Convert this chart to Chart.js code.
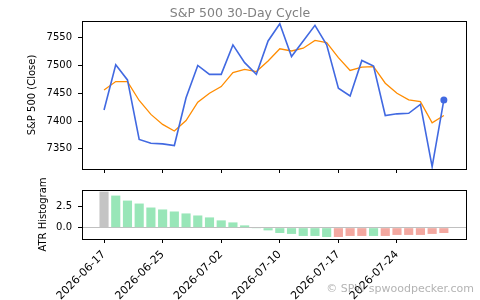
<!DOCTYPE html>
<html><head><meta charset="utf-8">
<script src="https://cdn.jsdelivr.net/npm/chart.js@4"></script>
<style>html,body{margin:0;padding:0;background:#fff;} #wrap{position:relative;width:480px;height:300px;} canvas{position:absolute;left:0;top:0;}</style>
</head><body><div id="wrap"><canvas id="top" width="480" height="300"></canvas><canvas id="bot" width="480" height="300"></canvas></div>
<script>
const dates = ['2026-06-17','2026-06-18','2026-06-22','2026-06-23','2026-06-24','2026-06-25','2026-06-26','2026-06-29','2026-06-30','2026-07-01','2026-07-02','2026-07-06','2026-07-07','2026-07-08','2026-07-09','2026-07-10','2026-07-13','2026-07-14','2026-07-15','2026-07-16','2026-07-17','2026-07-20','2026-07-21','2026-07-22','2026-07-23','2026-07-24','2026-07-27','2026-07-28','2026-07-29','2026-07-30'];
const closeVals = [7420, 7501, 7474, 7367, 7360, 7359, 7356, 7442, 7500, 7484, 7484, 7537, 7505, 7484, 7544, 7575, 7516, 7544, 7572, 7537, 7459, 7445, 7509, 7499, 7410, 7413, 7414, 7430, 7318, 7438];
const maVals = [7456, 7471, 7471, 7437, 7412, 7394, 7382, 7401, 7434, 7450, 7462, 7487, 7493, 7489, 7508, 7530, 7526, 7531, 7545, 7541, 7514, 7491, 7497, 7498, 7468, 7450, 7438, 7435, 7397, 7410];
const histVals = [4.26, 3.79, 3.20, 2.85, 2.38, 2.15, 1.91, 1.68, 1.44, 1.21, 0.86, 0.62, 0.27, -0.08, -0.32, -0.63, -0.74, -0.98, -0.98, -1.10, -1.10, -0.98, -0.98, -0.98, -0.98, -0.86, -0.86, -0.86, -0.74, -0.63];
const histKinds = ['n','g','g','g','g','g','g','g','g','g','g','g','g','g','g','g','g','g','g','g','r','r','r','g','r','r','r','r','r','r'];
const priceTicks = [7350, 7400, 7450, 7500, 7550];
const histTicks = [0, 2.5];
const dateTickIdx = [0, 5, 10, 15, 20, 25];

Chart.defaults.font.family = 'DejaVu Sans';
Chart.defaults.font.size = 10;
Chart.defaults.color = '#000';
const kindColor = {n:'#c4c4c4', g:'#98e6b8', r:'#f3a8a0'};
const X_MIN = -1.88, X_MAX = 30.89;

function fixY(w){ return s => { s.width = w; s.paddingTop = 0; s.paddingBottom = 0; }; }
function fixX(h){ return s => { s.height = h; s.paddingLeft = 0; s.paddingRight = 0; }; }
const frame = { id:'frame', afterDraw(c){ const a=c.chartArea, x=c.ctx; x.save(); x.strokeStyle='#000'; x.lineWidth=1;
  x.strokeRect(Math.round(a.left)+0.5, Math.round(a.top)+0.5, Math.round(a.right-a.left), Math.round(a.bottom-a.top)); x.restore(); } };
const watermark = { id:'wm', afterDraw(c){ const x=c.ctx; x.save(); x.font='11px "DejaVu Sans"'; x.fillStyle='rgba(128,128,128,0.6)';
  x.textAlign='right'; x.textBaseline='middle'; x.fillText('\u00a9 SPW spwoodpecker.com', 474, 289); x.restore(); } };

const tickGrid = {drawOnChartArea:false, tickLength:4, color:'#000', tickColor:'#000', lineWidth:1, offset:false};

new Chart(document.getElementById('top'), {
  type:'line',
  data:{datasets:[
    {data: closeVals.map((v,i)=>({x:i,y:v})), borderColor:'#4169e1', borderWidth:1.6,
     pointRadius: closeVals.map((v,i)=> i===closeVals.length-1 ? 3.5 : 0), pointBackgroundColor:'#4169e1', pointBorderWidth:0, tension:0},
    {data: maVals.map((v,i)=>({x:i,y:v})), borderColor:'#ff8c00', borderWidth:1.3, pointRadius:0, tension:0}
  ]},
  options:{ responsive:false, animation:false, events:[],
    layout:{padding:{left:14,right:14,top:0,bottom:127}},
    plugins:{legend:{display:false}, tooltip:{enabled:false},
      title:{display:true, text:'S&P 500 30-Day Cycle', color:'#808080', font:{size:12.5, weight:'normal'}, padding:{top:6,bottom:0}}},
    scales:{
      x:{type:'linear', offset:false, min:X_MIN, max:X_MAX, afterBuildTicks: s=>{ s.ticks = dateTickIdx.map(v=>({value:v})); }, afterFit: fixX(4),
         ticks:{callback:()=>'', autoSkip:false}, grid:tickGrid, border:{display:false}},
      y:{min:7313.8, max:7579.9, afterBuildTicks: s=>{ s.ticks = priceTicks.map(v=>({value:v})); }, afterFit: fixY(68),
         ticks:{padding:6, callback:v=>String(v)}, grid:tickGrid, border:{display:false},
         title:{display:true, text:'S&P 500 (Close)', font:{size:10}, padding:{top:12.3,bottom:0}}}
    }
  },
  plugins:[frame]
});

new Chart(document.getElementById('bot'), {
  type:'bar',
  data:{datasets:[{data: histVals.map((v,i)=>({x:i,y:v})), backgroundColor: histKinds.map(k=>kindColor[k]),
    barPercentage:0.78, categoryPercentage:1, borderWidth:0}]},
  options:{ responsive:false, animation:false, events:[],
    layout:{padding:{left:14,right:14,top:190,bottom:0}},
    plugins:{legend:{display:false}, tooltip:{enabled:false}},
    scales:{
      x:{type:'linear', offset:false, min:X_MIN, max:X_MAX, afterBuildTicks: s=>{ s.ticks = dateTickIdx.map(v=>({value:v})); }, afterFit: fixX(61),
         ticks:{callback:v=>dates[v], autoSkip:false, maxRotation:45, minRotation:45, padding:5, font:{size:11}}, grid:tickGrid, border:{display:false}},
      y:{min:-1.34, max:4.45, afterBuildTicks: s=>{ s.ticks = histTicks.map(v=>({value:v})); }, afterFit: fixY(68),
         ticks:{padding:6, callback:v=>v.toFixed(1)},
         grid:{drawOnChartArea:true, tickLength:4, tickColor:'#000', lineWidth:1,
               color: c => (c.tick && c.tick.value===0) ? '#c0c0c0' : 'rgba(0,0,0,0)'},
         border:{display:false},
         title:{display:true, text:'ATR Histogram', font:{size:10}, padding:{top:23,bottom:0}}}
    }
  },
  plugins:[frame, watermark]
});
</script></body></html>
